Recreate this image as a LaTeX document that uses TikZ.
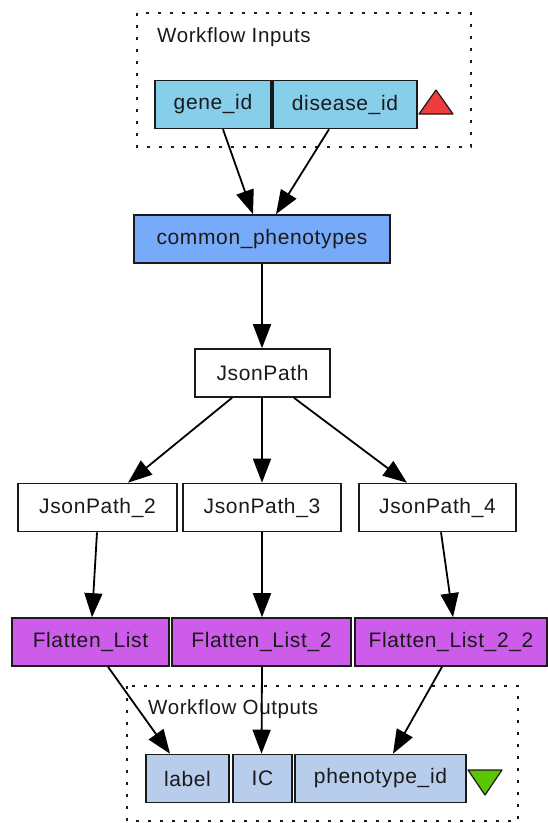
\documentclass[tikz,border=0pt]{standalone}
\usepackage{fontspec}
\setmainfont[LetterSpace=3]{Liberation Sans}
\usetikzlibrary{arrows.meta}

\definecolor{inputfill}{HTML}{87CEEB}
\definecolor{nestedfill}{HTML}{78AAFA}
\definecolor{localfill}{HTML}{CD5CEA}
\definecolor{outputfill}{HTML}{B7CDEB}
\definecolor{inmark}{HTML}{EE3B3B}
\definecolor{outmark}{HTML}{5CC400}
\definecolor{ink}{HTML}{1A1A1A}

\tikzset{
  proc/.style={draw=ink, line width=1.6pt, inner sep=0pt, minimum height=48pt,
    text=ink, font=\fontsize{21}{25}\selectfont},
  portbox/.style={proc, fill=inputfill},
  nestedbox/.style={proc, fill=nestedfill},
  plainbox/.style={proc, fill=white},
  flatbox/.style={proc, fill=localfill},
  outbox/.style={proc, fill=outputfill},
  groupframe/.style={draw=ink, line width=2pt, dash pattern=on 3pt off 9pt},
  grouptitle/.style={anchor=west, inner sep=0pt, text=ink, font=\fontsize{20.5}{24}\selectfont},
  link/.style={draw=black, line width=1.8pt, -{Triangle[length=24pt,width=18pt]}},
  marker/.style={draw=ink, line width=1.2pt, line join=round}
}

\begin{document}
\begin{tikzpicture}[x=1pt, y=-1pt]
  \useasboundingbox (0,0) rectangle (547,823);

  % groups
  \draw[groupframe] (137,13) rectangle (471,147);
  \node[grouptitle] (intitle) at (157,37) {Workflow Inputs};
  \draw[groupframe] (127,686) rectangle (518,821);
  \node[grouptitle] (outtitle) at (148,709) {Workflow Outputs};

  % workflow inputs
  \node[portbox, minimum width=116pt] (gene) at (213,104.5) {gene\_id};
  \node[portbox, minimum width=144pt] (disease) at (345,104.5) {disease\_id};
  \filldraw[marker, fill=inmark] (419,114) -- (453,114) -- (436,90) -- cycle;

  % processors
  \node[nestedbox, minimum width=256pt] (common) at (262,239) {common\_phenotypes};
  \node[plainbox, minimum width=135pt] (jp) at (262.5,373) {JsonPath};
  \node[plainbox, minimum width=159pt] (jp2) at (97.5,507.5) {JsonPath\_2};
  \node[plainbox, minimum width=158pt] (jp3) at (262,507.5) {JsonPath\_3};
  \node[plainbox, minimum width=157pt] (jp4) at (437.5,507.5) {JsonPath\_4};
  \node[flatbox, minimum width=157pt] (fl) at (90.5,642) {Flatten\_List};
  \node[flatbox, minimum width=179pt] (fl2) at (261.5,642) {Flatten\_List\_2};
  \node[flatbox, minimum width=192pt] (fl22) at (451,642) {Flatten\_List\_2\_2};

  % workflow outputs
  \node[outbox, minimum width=83pt] (label) at (187.5,778.5) {label};
  \node[outbox, minimum width=59pt] (ic) at (262.5,778.5) {IC};
  \node[outbox, minimum width=171pt] (pheno) at (380.5,778.5) {phenotype\_id};
  \filldraw[marker, fill=outmark] (468,770) -- (502,770) -- (485,795) -- cycle;

  % data links
  \draw[link] ([xshift=10pt]gene.south) -- ([xshift=-9pt]common.north);
  \draw[link] ([xshift=-16pt]disease.south) -- ([xshift=14pt]common.north);
  \draw[link] (common.south) -- (jp.north -| common.south);
  \draw[link] ([xshift=-30.5pt]jp.south) -- ([xshift=30.5pt]jp2.north);
  \draw[link] ([xshift=-0.5pt]jp.south) -- (jp3.north);
  \draw[link] ([xshift=31.5pt]jp.south) -- ([xshift=-30.5pt]jp4.north);
  \draw[link] ([xshift=-0.5pt]jp2.south) -- ([xshift=1.5pt]fl.north);
  \draw[link] (jp3.south) -- (fl2.north -| jp3.south);
  \draw[link] ([xshift=3.5pt]jp4.south) -- ([xshift=2pt]fl22.north);
  \draw[link] ([xshift=17.5pt]fl.south) -- ([xshift=-17.5pt]label.north);
  \draw[link] ([xshift=0.5pt]fl2.south) -- (ic.north -| fl2.south);
  \draw[link] ([xshift=-9pt]fl22.south) -- ([xshift=12.5pt]pheno.north);
\end{tikzpicture}
\end{document}
